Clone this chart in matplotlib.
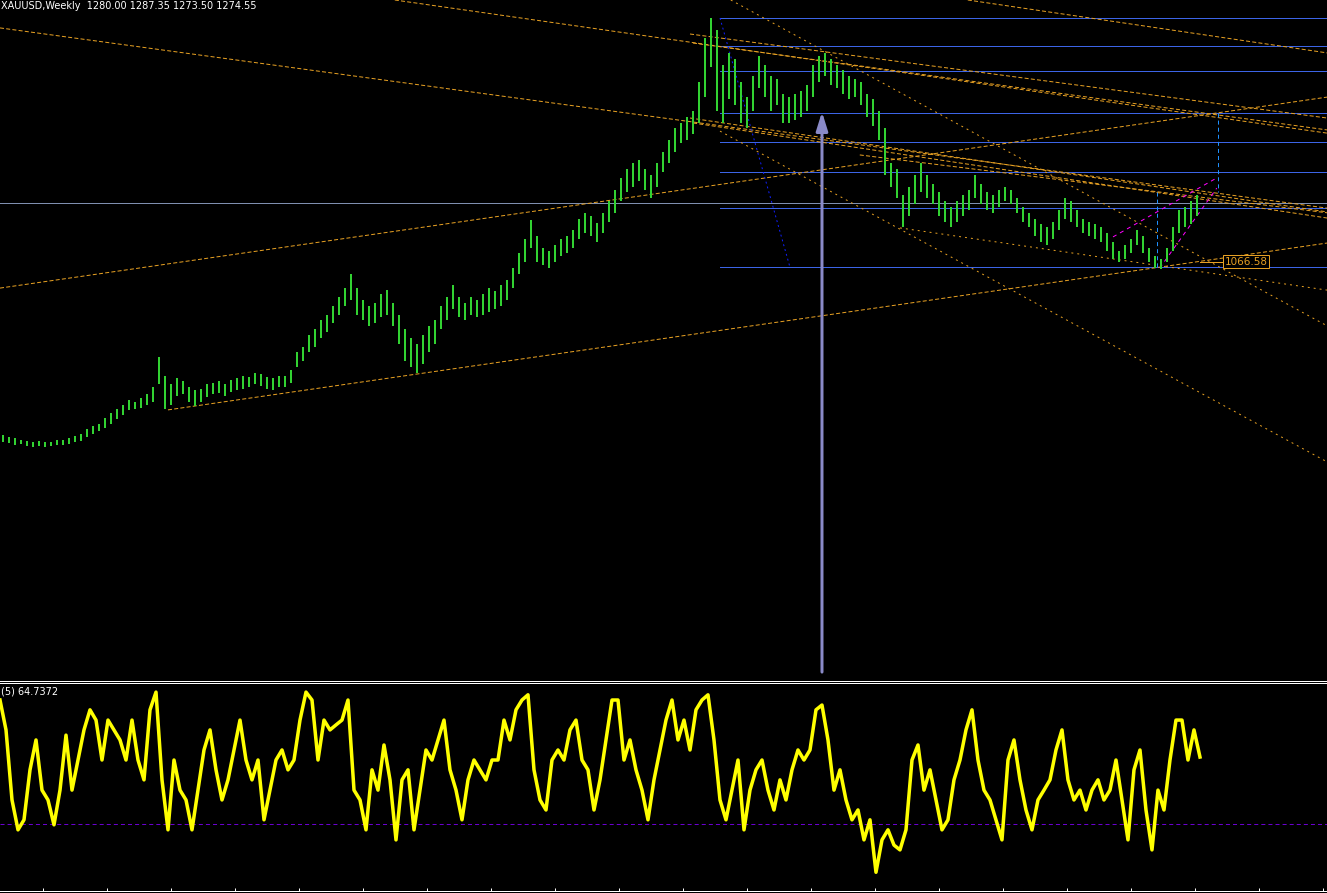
"""XAUUSD weekly chart with trend drawings and a (5) oscillator pane, MT4 style."""
import matplotlib

matplotlib.use("Agg")
import matplotlib.pyplot as plt
from matplotlib.lines import Line2D
import numpy as np

W, H, DPI = 1327, 893, 100

# weekly bars (bar index -> USD)
LOWS = [460, 458, 452, 455, 448, 446, 448, 445, 447, 450, 452, 455, 460, 466,
        478, 490, 498, 510, 525, 540, 555, 570, 575, 580, 590, 600, 660, 575,
        590, 620, 625, 600, 585, 600, 615, 625, 630, 620, 635, 640, 645, 650,
        660, 655, 645, 640, 650, 650, 665, 720, 740, 770, 790, 820, 840, 870,
        900, 930, 950, 900, 880, 860, 870, 890, 900, 860, 800, 740, 720, 700,
        730, 770, 800, 850, 880, 920, 890, 880, 900, 890, 900, 910, 920, 930,
        950, 990, 1040, 1080, 1130, 1080, 1070, 1060, 1080, 1100, 1110, 1130,
        1160, 1180, 1170, 1150, 1180, 1220, 1250, 1290, 1320, 1340, 1360, 1330,
        1300, 1340, 1390, 1420, 1460, 1490, 1500, 1520, 1560, 1650, 1750, 1600,
        1560, 1640, 1620, 1560, 1540, 1600, 1680, 1650, 1600, 1620, 1560, 1560,
        1570, 1580, 1600, 1650, 1700, 1720, 1690, 1680, 1660, 1640, 1650, 1620,
        1580, 1550, 1500, 1380, 1340, 1300, 1200, 1240, 1280, 1320, 1300, 1280,
        1240, 1220, 1200, 1220, 1240, 1260, 1300, 1280, 1260, 1250, 1270, 1290,
        1280, 1250, 1220, 1200, 1170, 1150, 1140, 1160, 1190, 1230, 1220, 1200,
        1180, 1170, 1160, 1150, 1120, 1090, 1080, 1090, 1110, 1140, 1110, 1080,
        1060, 1058, 1080, 1120, 1180, 1200, 1210, 1240]
HIGHS = [485, 478, 474, 470, 466, 462, 465, 460, 462, 468, 470, 476, 482, 490,
         505, 515, 525, 545, 560, 575, 590, 605, 600, 612, 625, 650, 755, 690,
         660, 680, 670, 650, 640, 645, 660, 665, 670, 662, 675, 680, 690, 685,
         700, 695, 685, 680, 690, 688, 710, 770, 790, 830, 850, 880, 900, 930,
         960, 990, 1040, 990, 950, 930, 940, 970, 985, 940, 900, 850, 820, 800,
         830, 860, 880, 930, 960, 1000, 960, 940, 960, 950, 970, 990, 980, 1000,
         1020, 1060, 1110, 1160, 1225, 1170, 1130, 1120, 1140, 1160, 1170, 1190,
         1230, 1250, 1240, 1215, 1250, 1290, 1330, 1370, 1400, 1420, 1430, 1400,
         1380, 1420, 1460, 1500, 1540, 1560, 1580, 1600, 1700, 1850, 1920, 1880,
         1760, 1800, 1780, 1700, 1650, 1720, 1790, 1760, 1720, 1710, 1660, 1650,
         1660, 1670, 1690, 1760, 1790, 1800, 1780, 1760, 1740, 1720, 1710, 1700,
         1660, 1640, 1600, 1540, 1420, 1400, 1310, 1340, 1380, 1420, 1380, 1350,
         1320, 1290, 1270, 1290, 1310, 1330, 1380, 1350, 1320, 1310, 1330, 1340,
         1330, 1300, 1270, 1250, 1230, 1210, 1200, 1220, 1260, 1300, 1290, 1260,
         1230, 1220, 1210, 1200, 1180, 1150, 1120, 1140, 1160, 1190, 1170, 1130,
         1100, 1090, 1130, 1200, 1260, 1270, 1290, 1310]

# oscillator (5), 0..100
OSC = [94.3, 78.8, 42.5, 27.0, 32.2, 58.1, 73.6, 47.6, 42.5, 29.6, 47.6, 76.1,
       47.6, 63.2, 78.8, 89.2, 83.9, 63.2, 83.9, 78.8, 73.6, 63.2, 83.9, 63.2,
       52.9, 89.2, 98.4, 52.9, 27.0, 63.2, 47.6, 42.5, 27.0, 47.6, 68.4, 78.8,
       58.1, 42.5, 52.9, 68.4, 83.9, 63.2, 52.9, 63.2, 32.2, 47.6, 63.2, 68.4,
       58.1, 63.2, 83.9, 98.4, 94.3, 63.2, 83.9, 78.8, 81.4, 83.9, 94.3, 47.6,
       42.5, 27.0, 58.1, 47.6, 71.0, 52.9, 21.8, 52.9, 58.1, 27.0, 47.6, 68.4,
       63.2, 73.6, 83.9, 58.1, 47.6, 32.2, 52.9, 63.2, 58.1, 52.9, 63.2, 63.2,
       83.9, 73.6, 89.2, 94.3, 97.0, 58.1, 42.5, 37.3, 63.2, 68.4, 63.2, 78.8,
       83.9, 63.2, 58.1, 37.3, 52.9, 73.6, 94.3, 94.3, 63.2, 73.6, 58.1, 47.6,
       32.2, 52.9, 68.4, 83.9, 94.3, 73.6, 83.9, 68.4, 89.2, 94.3, 97.0, 73.6,
       42.5, 32.2, 47.6, 63.2, 27.0, 47.6, 58.1, 63.2, 47.6, 37.3, 52.9, 42.5,
       58.1, 68.4, 63.2, 68.4, 89.2, 91.7, 73.6, 47.6, 58.1, 42.5, 32.2, 37.3,
       21.8, 32.2, 5.0, 21.8, 27.0, 19.1, 16.6, 27.0, 63.2, 71.0, 47.6, 58.1,
       42.5, 27.0, 32.2, 52.9, 63.2, 78.8, 89.2, 63.2, 47.6, 42.5, 32.2, 21.8,
       63.2, 73.6, 52.9, 37.3, 27.0, 42.5, 47.6, 52.9, 68.4, 78.8, 52.9, 42.5,
       47.6, 37.3, 47.6, 52.9, 42.5, 47.6, 63.2, 42.5, 21.8, 58.1, 68.4, 37.3,
       16.6, 47.6, 37.3, 63.2, 83.9, 83.9, 63.2, 78.8, 64.7372]
OSC_LEVEL = 30

# horizontal levels (USD)
LEVELS = [1920, 1824, 1738, 1593, 1493, 1390, 1268, 1064]
BID = 1285

# trend drawings: (bar0, price0, bar1, price1)
ORANGE_DASHED = [(-0.5, 1886, 220.7, 1266), (65.3, 1982, 220.7, 1524),
                 (160.8, 1982, 220.7, 1800), (114.5, 1865, 220.7, 1576),
                 (115, 1834, 220.7, 1535), (-0.5, 991, 220.7, 1648),
                 (27.5, 572, 220.7, 1146), (114.5, 1576, 220.7, 1253),
                 (115, 1559, 220.7, 1232), (142.8, 1449, 220.7, 1250)]
ORANGE_DOTTED = [(121.3, 1982, 220.7, 861), (119.5, 1531, 220.7, 393),
                 (149.5, 1198, 220.7, 984)]
BLUE_DOTTED = [(119.5, 1920, 131.2, 1060)]
CYAN_DASHED = [(192.3, 1322, 192.3, 1060), (202.5, 1593, 202.5, 1322)]
MAGENTA_DASHED = [(185, 1167, 202.3, 1370), (192.8, 1060, 202.3, 1335)]

HEADER = "XAUUSD,Weekly  1280.00 1287.35 1273.50 1274.55"
OSC_LABEL = "(5) 64.7372"
LOW_LABEL = "1066.58"

XLIM = (-0.5, 220.67)
YLIM = (-350.3, 1982)
OSC_YLIM = (-4.7, 102.6)

ORANGE = "#e6a023"
PX = 72 / DPI  # one pixel in points


def fy(py):
    return 1 - py / H


def draw_segments(ax, segs, color, dashes, lw=PX):
    for x0, y0, x1, y1 in segs:
        ax.plot([x0, x1], [y0, y1], color=color, lw=lw, dashes=dashes,
                solid_capstyle="butt")


def main():
    plt.rcParams["font.family"] = ["DejaVu Sans"]
    plt.rcParams["lines.scale_dashes"] = False
    fig = plt.figure(figsize=(W / DPI, H / DPI), dpi=DPI, facecolor="black")

    ax = fig.add_axes([0, fy(678), 1, 678 / H], facecolor="black")
    osc = fig.add_axes([0, fy(891), 1, (891 - 684) / H], facecolor="black")
    for a in (ax, osc):
        a.set_xlim(*XLIM)
        for s in a.spines.values():
            s.set_visible(False)
        a.set_xticks([]); a.set_yticks([])
    ax.set_ylim(*YLIM)
    osc.set_ylim(*OSC_YLIM)

    # horizontal levels
    for lv in LEVELS:
        ax.plot([119.5, XLIM[1]], [lv, lv], color="#3c64e6", lw=PX)
    ax.axhline(BID, color="#7f8fb0", lw=PX)

    draw_segments(ax, ORANGE_DASHED, ORANGE, (2.9, 1.6))
    draw_segments(ax, ORANGE_DOTTED, ORANGE, (1.4, 2.9))
    draw_segments(ax, BLUE_DOTTED, "#1020ff", (1.4, 2.2))
    draw_segments(ax, CYAN_DASHED, "#1e90ff", (2.9, 2.2))
    draw_segments(ax, MAGENTA_DASHED, "#ff00ff", (2.9, 2.9))

    # price bars
    idx = np.arange(len(LOWS))
    ax.vlines(idx, LOWS, HIGHS, color="#32d232", lw=2 * PX)

    # label for the low
    ax.plot([199.5, 203.5], [1081, 1081], color=ORANGE, lw=PX)
    ax.text(203.6, 1081, LOW_LABEL, color=ORANGE, fontsize=7.5, va="center",
            ha="left", bbox=dict(boxstyle="square,pad=0.15", fc="black",
                                 ec=ORANGE, lw=PX))

    # vertical arrow
    ax.annotate("", xy=(136.5, 1597), xytext=(136.5, -330),
                arrowprops=dict(arrowstyle="-|>,head_length=0.8,head_width=0.25",
                                color="#8a8ac8", lw=3 * PX, mutation_scale=14,
                                shrinkA=0, shrinkB=0))

    # oscillator pane
    osc.axhline(OSC_LEVEL, color="#6a00d0", lw=PX, dashes=(2.9, 2.2))
    osc.plot(np.arange(len(OSC)) - 0.5, OSC, color="#ffff00", lw=3.5 * PX,
             solid_joinstyle="round")
    osc.spines["bottom"].set_visible(True)
    osc.spines["bottom"].set_color("white")
    osc.spines["bottom"].set_linewidth(PX)
    osc.set_xticks([(43 + 64 * k - 3) / 6 for k in range(21)])
    osc.tick_params(axis="x", direction="in", length=2, width=PX,
                    color="white", labelbottom=False)

    # pane separator (double white line)
    for py in (680.5, 682.5):
        fig.add_artist(Line2D([0, 1], [fy(py), fy(py)], color="white", lw=PX))

    fig.text(1 / W, fy(1), HEADER, color="white", fontsize=7,
             va="top", ha="left")
    fig.text(1 / W, fy(691), OSC_LABEL, color="white", fontsize=7,
             va="center", ha="left")

    fig.savefig("out.png", dpi=DPI, facecolor="black")
    plt.close(fig)


if __name__ == "__main__":
    main()
